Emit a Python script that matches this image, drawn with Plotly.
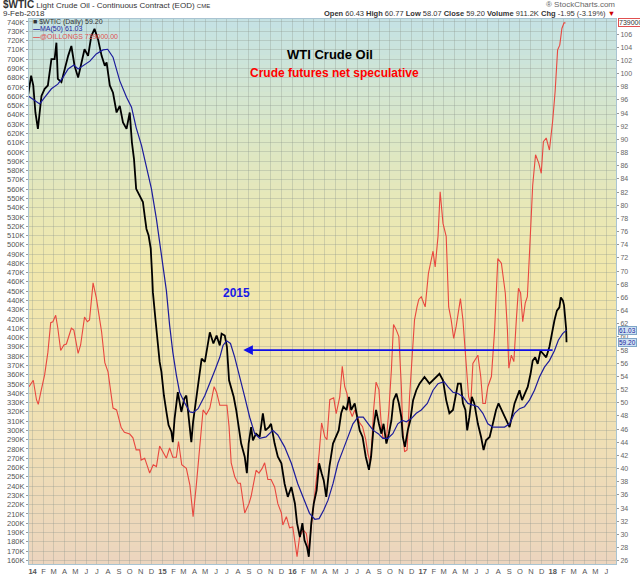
import plotly.graph_objects as go
import pandas as pd

# WTI daily close, sampled off the chart (right axis)
price_dates = [
    "2013-12-20", "2013-12-28", "2014-01-03", "2014-01-09", "2014-01-16", "2014-01-21", "2014-01-26",
    "2014-02-04", "2014-02-13", "2014-02-23", "2014-03-04", "2014-03-09", "2014-03-13", "2014-03-23",
    "2014-04-01", "2014-04-11", "2014-04-20", "2014-04-29", "2014-05-09", "2014-05-18", "2014-05-27",
    "2014-06-06", "2014-06-15", "2014-06-24", "2014-07-04", "2014-07-14", "2014-07-23", "2014-07-28",
    "2014-08-06", "2014-08-15", "2014-08-25", "2014-09-03", "2014-09-12", "2014-09-22", "2014-10-01",
    "2014-10-07", "2014-10-13", "2014-10-19", "2014-10-29", "2014-11-07", "2014-11-12", "2014-11-17",
    "2014-11-23", "2014-11-29", "2014-12-03", "2014-12-05", "2014-12-12", "2014-12-19", "2014-12-24",
    "2014-12-29", "2015-01-05", "2015-01-12", "2015-01-18", "2015-01-26", "2015-01-30", "2015-02-04",
    "2015-02-09", "2015-02-13", "2015-02-18", "2015-02-23", "2015-03-03", "2015-03-09", "2015-03-14",
    "2015-03-19", "2015-03-23", "2015-03-28", "2015-04-02", "2015-04-09", "2015-04-16", "2015-04-21",
    "2015-04-30", "2015-05-08", "2015-05-14", "2015-05-24", "2015-06-02", "2015-06-11", "2015-06-16",
    "2015-06-25", "2015-07-01", "2015-07-07", "2015-07-13", "2015-07-20", "2015-07-27", "2015-08-04",
    "2015-08-10", "2015-08-20", "2015-08-26", "2015-08-31", "2015-09-07", "2015-09-12", "2015-09-21",
    "2015-10-01", "2015-10-10", "2015-10-17", "2015-10-27", "2015-11-02", "2015-11-12", "2015-11-21",
    "2015-12-01", "2015-12-10", "2015-12-19", "2015-12-29", "2016-01-08", "2016-01-14", "2016-01-22",
    "2016-01-29", "2016-02-04", "2016-02-11", "2016-02-16", "2016-02-23", "2016-03-01", "2016-03-09",
    "2016-03-16", "2016-03-23", "2016-03-29", "2016-04-05", "2016-04-14", "2016-04-24", "2016-05-03",
    "2016-05-10", "2016-05-17", "2016-05-23", "2016-06-01", "2016-06-08", "2016-06-14", "2016-06-24",
    "2016-07-01", "2016-07-08", "2016-07-16", "2016-07-25", "2016-08-03", "2016-08-09", "2016-08-16",
    "2016-08-23", "2016-08-31", "2016-09-07", "2016-09-13", "2016-09-21", "2016-09-28", "2016-10-05",
    "2016-10-11", "2016-10-19", "2016-10-26", "2016-11-02", "2016-11-06", "2016-11-12", "2016-11-20",
    "2016-11-27", "2016-12-05", "2016-12-14", "2016-12-23", "2017-01-06", "2017-01-20", "2017-02-03",
    "2017-02-17", "2017-02-27", "2017-03-08", "2017-03-17", "2017-03-27", "2017-04-03", "2017-04-10",
    "2017-04-18", "2017-04-24", "2017-05-01", "2017-05-06", "2017-05-12", "2017-05-19", "2017-05-26",
    "2017-06-05", "2017-06-14", "2017-06-21", "2017-06-28", "2017-07-08", "2017-07-17", "2017-07-26",
    "2017-08-02", "2017-08-10", "2017-08-19", "2017-08-27", "2017-09-02", "2017-09-08", "2017-09-16",
    "2017-09-23", "2017-09-30", "2017-10-07", "2017-10-14", "2017-10-23", "2017-10-31", "2017-11-06",
    "2017-11-13", "2017-11-20", "2017-11-28", "2017-12-04", "2017-12-14", "2017-12-23", "2017-12-29",
    "2018-01-06", "2018-01-13", "2018-01-20", "2018-01-24", "2018-01-30", "2018-02-02", "2018-02-06",
    "2018-02-08", "2018-02-09",
]
price_close = [
    96.9, 99.7, 98.2, 94.1, 91.6, 94.1, 96.6,
    97.7, 98.2, 102.2, 102.2, 104.7, 99.2, 98.7,
    100.7, 102.7, 104.2, 101.2, 99.4, 101.7, 103.7,
    102.7, 105.7, 106.8, 105.2, 102.7, 101.2, 101.7,
    98.2, 97.1, 94.1, 95.1, 92.6, 91.6, 94.1,
    89.6, 87.0, 82.5, 81.5, 80.5, 78.4, 76.4,
    75.4, 73.4, 69.3, 66.8, 62.8, 58.7, 56.2,
    54.7, 51.1, 48.6, 46.6, 45.6, 44.0, 47.6,
    49.6, 51.6, 50.1, 48.6, 50.6, 51.1, 48.6,
    45.6, 44.0, 47.1, 49.1, 51.1, 54.2, 56.7,
    56.2, 59.2, 60.7, 59.0, 60.2, 58.7, 60.5,
    60.2, 58.5, 53.4, 52.4, 50.9, 48.9, 46.3,
    43.8, 41.8, 39.3, 43.8, 46.3, 44.3, 45.3,
    44.8, 48.4, 45.8, 46.3, 46.8, 43.8, 41.8,
    40.8, 37.7, 35.7, 37.2, 34.7, 31.7, 29.6,
    31.7, 29.1, 28.1, 26.6, 31.7, 34.7, 36.7,
    40.8, 39.3, 38.2, 35.7, 40.3, 43.8, 44.8,
    45.8, 48.4, 49.4, 48.9, 50.9, 48.9, 49.9,
    47.8, 45.8, 44.8, 41.8, 39.8, 41.8, 46.3,
    48.9, 46.8, 45.3, 46.8, 43.8, 45.3, 47.3,
    50.4, 51.4, 49.9, 47.8, 44.8, 43.3, 45.8,
    47.3, 50.4, 51.9, 52.9, 53.9, 52.9, 53.7,
    54.4, 53.4, 50.4, 48.4, 48.9, 50.9, 52.9,
    52.9, 49.9, 48.9, 45.8, 47.8, 50.9, 49.9,
    46.8, 44.8, 42.8, 44.3, 44.8, 46.8, 48.9,
    49.9, 48.9, 47.8, 46.8, 46.3, 47.8, 49.9,
    50.9, 51.9, 50.4, 51.4, 52.4, 54.4, 56.4,
    56.9, 55.9, 57.9, 57.5, 56.9, 58.5, 60.5,
    62.5, 64.0, 64.5, 66.0, 65.5, 64.8, 63.0,
    61.2, 59.2,
]

# 50-day moving average of the close
ma_dates = [
    "2013-12-20", "2014-01-07", "2014-01-21", "2014-02-04", "2014-02-23", "2014-03-13", "2014-03-27",
    "2014-04-11", "2014-04-27", "2014-05-09", "2014-05-22", "2014-06-11", "2014-06-29", "2014-07-18",
    "2014-07-31", "2014-08-15", "2014-09-03", "2014-09-22", "2014-10-06", "2014-10-19", "2014-11-03",
    "2014-11-17", "2014-12-01", "2014-12-15", "2014-12-29", "2015-01-12", "2015-01-21", "2015-01-30",
    "2015-02-09", "2015-02-18", "2015-03-05", "2015-03-19", "2015-03-28", "2015-04-11", "2015-04-30",
    "2015-05-14", "2015-05-28", "2015-06-11", "2015-06-20", "2015-06-30", "2015-07-11", "2015-07-23",
    "2015-08-05", "2015-08-20", "2015-09-03", "2015-09-17", "2015-10-01", "2015-10-19", "2015-11-07",
    "2015-11-21", "2015-12-10", "2015-12-29", "2016-01-16", "2016-02-04", "2016-02-18", "2016-03-04",
    "2016-03-16", "2016-03-29", "2016-04-10", "2016-04-24", "2016-05-08", "2016-05-22", "2016-06-05",
    "2016-06-19", "2016-07-03", "2016-07-18", "2016-08-01", "2016-08-15", "2016-08-29", "2016-09-11",
    "2016-09-25", "2016-10-09", "2016-10-23", "2016-11-05", "2016-11-16", "2016-11-30", "2016-12-14",
    "2016-12-28", "2017-01-14", "2017-01-30", "2017-02-13", "2017-03-02", "2017-03-13", "2017-03-27",
    "2017-04-10", "2017-04-24", "2017-05-08", "2017-05-22", "2017-06-05", "2017-06-19", "2017-07-03",
    "2017-07-17", "2017-08-05", "2017-08-19", "2017-09-02", "2017-09-16", "2017-09-30", "2017-10-14",
    "2017-10-28", "2017-11-11", "2017-11-25", "2017-12-09", "2017-12-23", "2018-01-06", "2018-01-17",
    "2018-01-29", "2018-02-09",
]
ma_values = [
    96.6, 95.9, 95.4, 96.4, 97.7, 98.4, 99.4,
    100.7, 101.3, 100.7, 101.2, 101.9, 103.0, 103.6,
    103.7, 102.5, 98.9, 96.4, 94.9, 91.8, 89.1,
    86.0, 82.5, 77.9, 72.4, 67.0, 61.8, 57.7,
    54.2, 51.6, 49.9, 48.6, 48.5, 49.1, 51.1,
    52.9, 54.9, 56.9, 58.7, 59.4, 59.0, 56.9,
    53.9, 50.9, 47.8, 45.3, 44.6, 44.8, 45.8,
    45.1, 43.3, 40.8, 37.7, 35.2, 33.2, 32.3,
    32.4, 33.7, 35.2, 37.7, 40.8, 42.8, 44.8,
    46.8, 47.8, 47.8, 46.8, 45.8, 45.3, 44.6,
    44.6, 45.3, 46.8, 47.3, 47.1, 47.6, 48.4,
    48.9, 49.9, 51.9, 52.9, 53.2, 52.4, 51.6,
    51.4, 50.9, 49.9, 49.6, 49.4, 48.4, 46.8,
    46.3, 46.3, 46.3, 46.8, 48.4, 49.1, 49.4,
    50.4, 51.9, 53.9, 55.4, 56.4, 57.9, 59.5,
    60.5, 61.03,
]

# @OILLONGS, crude futures net speculative longs (left axis, contracts)
cot_dates = [
    "2013-12-22", "2014-01-03", "2014-01-12", "2014-01-17", "2014-01-24", "2014-02-04", "2014-02-13",
    "2014-02-21", "2014-02-27", "2014-03-07", "2014-03-13", "2014-03-21", "2014-03-30", "2014-04-06",
    "2014-04-20", "2014-04-27", "2014-05-09", "2014-05-16", "2014-05-27", "2014-06-04", "2014-06-10",
    "2014-06-20", "2014-06-29", "2014-07-14", "2014-07-23", "2014-08-01", "2014-08-15", "2014-08-25",
    "2014-09-07", "2014-09-16", "2014-10-01", "2014-10-10", "2014-10-19", "2014-10-29", "2014-11-02",
    "2014-11-12", "2014-11-26", "2014-12-06", "2014-12-15", "2014-12-24", "2015-01-02", "2015-01-12",
    "2015-01-21", "2015-01-30", "2015-02-09", "2015-02-15", "2015-02-24", "2015-03-09", "2015-03-19",
    "2015-03-28", "2015-04-06", "2015-04-16", "2015-04-25", "2015-05-04", "2015-05-14", "2015-05-26",
    "2015-06-02", "2015-06-11", "2015-06-25", "2015-07-01", "2015-07-07", "2015-07-13", "2015-07-23",
    "2015-08-01", "2015-08-08", "2015-08-20", "2015-09-01", "2015-09-07", "2015-09-12", "2015-09-21",
    "2015-09-29", "2015-10-08", "2015-10-15", "2015-10-24", "2015-11-02", "2015-11-12", "2015-11-21",
    "2015-12-01", "2015-12-05", "2015-12-15", "2015-12-24", "2016-01-02", "2016-01-14", "2016-01-21",
    "2016-01-31", "2016-02-09", "2016-02-16", "2016-02-26", "2016-03-09", "2016-03-16", "2016-03-23",
    "2016-04-01", "2016-04-07", "2016-04-15", "2016-04-26", "2016-05-03", "2016-05-13", "2016-05-20",
    "2016-05-27", "2016-06-02", "2016-06-10", "2016-06-17", "2016-06-24", "2016-07-01", "2016-07-08",
    "2016-07-16", "2016-07-25", "2016-07-31", "2016-08-07", "2016-08-12", "2016-08-16", "2016-08-23",
    "2016-08-31", "2016-09-07", "2016-09-11", "2016-09-21", "2016-09-28", "2016-10-05", "2016-10-11",
    "2016-10-19", "2016-10-26", "2016-11-02", "2016-11-06", "2016-11-11", "2016-11-18", "2016-11-25",
    "2016-12-03", "2016-12-09", "2016-12-16", "2016-12-21", "2016-12-28", "2017-01-08", "2017-01-17",
    "2017-01-30", "2017-02-05", "2017-02-13", "2017-02-19", "2017-02-27", "2017-03-08", "2017-03-15",
    "2017-03-22", "2017-03-29", "2017-04-05", "2017-04-17", "2017-04-24", "2017-05-04", "2017-05-10",
    "2017-05-16", "2017-05-22", "2017-06-05", "2017-06-13", "2017-06-19", "2017-06-26", "2017-07-03",
    "2017-07-13", "2017-07-22", "2017-07-31", "2017-08-10", "2017-08-21", "2017-08-27", "2017-08-31",
    "2017-09-07", "2017-09-14", "2017-09-21", "2017-09-27", "2017-10-03", "2017-10-09", "2017-10-16",
    "2017-10-22", "2017-10-28", "2017-11-03", "2017-11-06", "2017-11-14", "2017-11-23", "2017-11-30",
    "2017-12-06", "2017-12-14", "2017-12-23", "2018-01-01", "2018-01-08", "2018-01-15", "2018-01-21",
    "2018-01-27", "2018-02-02", "2018-02-06",
]
cot_longs_k = [
    347, 354, 333, 328, 341, 360, 384,
    416, 417, 424, 410, 386, 392, 393,
    410, 408, 383, 392, 422, 417, 419,
    459, 443, 406, 373, 363, 324, 322,
    303, 298, 296, 292, 279, 279, 268,
    270, 254, 263, 261, 283, 277, 270,
    281, 271, 271, 288, 263, 259, 241,
    207, 241, 281, 322, 317, 324, 347,
    341, 327, 327, 327, 304, 265, 250,
    243, 243, 211, 221, 229, 239, 257,
    254, 259, 265, 247, 247, 239, 221,
    211, 198, 207, 195, 196, 164, 185,
    193, 189, 171, 207, 243, 275, 308,
    293, 290, 333, 335, 318, 336, 369,
    347, 340, 322, 315, 322, 315, 308,
    304, 290, 275, 265, 293, 322, 352,
    344, 304, 293, 290, 322, 365, 414,
    408, 401, 347, 300, 277, 279, 336,
    383, 419, 433, 441, 444, 433, 469,
    493, 476, 509, 557, 523, 509, 433,
    419, 399, 412, 442, 419, 372, 336,
    329, 372, 381, 358, 329, 329, 347,
    358, 408, 485, 480, 448, 408, 367,
    381, 374, 419, 453, 448, 417, 437,
    444, 491, 537, 564, 597, 588, 577,
    611, 615, 602, 633, 665, 710, 715,
    733, 739, 739,
]
cot_longs = [v * 1000 for v in cot_longs_k]

# 2015 high level carried forward
arrow_level = 58.0
arrow_from = "2018-01-05"
arrow_to = "2015-08-16"

month_letters = ["J", "F", "M", "A", "M", "J", "J", "A", "S", "O", "N", "D"]
tick_months = pd.date_range("2014-01-01", "2018-06-01", freq="MS")
tick_text = [f"<b>{d.strftime('%y')}</b>" if d.month == 1 else month_letters[d.month - 1]
             for d in tick_months]

left_ticks = list(range(160000, 740001, 10000))
left_text = [f"{v // 1000}K" for v in left_ticks]
right_ticks = list(range(26, 107, 2))

FONT = "Arial, Liberation Sans, sans-serif"

fig = go.Figure()

fig.add_trace(go.Scatter(x=cot_dates, y=cot_longs, mode="lines",
                         line=dict(color="#e8473f", width=1.1), yaxis="y"))
fig.add_trace(go.Scatter(x=price_dates, y=price_close, mode="lines",
                         line=dict(color="#000000", width=1.8), yaxis="y2"))
fig.add_trace(go.Scatter(x=ma_dates, y=ma_values, mode="lines",
                         line=dict(color="#1c1c9c", width=1.2), yaxis="y2"))

# gradient background, teal at the top to peach at the bottom
stops = [(0.0, (236, 213, 190)), (0.3, (240, 226, 178)), (0.55, (241, 232, 172)),
         (0.8, (218, 231, 200)), (1.0, (196, 226, 228))]
n_bands = 60
shapes = []
for i in range(n_bands):
    f = (i + 0.5) / n_bands
    for (f0, c0), (f1, c1) in zip(stops[:-1], stops[1:]):
        if f0 <= f <= f1:
            t = (f - f0) / (f1 - f0)
            col = tuple(round(a + (b - a) * t) for a, b in zip(c0, c1))
            break
    shapes.append(dict(type="rect", xref="paper", yref="paper", x0=0, x1=1,
                       y0=i / n_bands, y1=(i + 1) / n_bands + 0.002,
                       fillcolor=f"rgb{col}", line=dict(width=0), layer="below"))

annotations = [
    # header
    dict(x=-0.048, y=1.027, xref="paper", yref="paper", xanchor="left", yanchor="middle",
         text="<span style='font-size:10px'><b>$WTIC</b></span> Light Crude Oil - Continuous Contract (EOD) "
              "<span style='font-size:6px'>CME</span>",
         font=dict(size=8, color="#333"), showarrow=False),
    dict(x=-0.048, y=1.01, xref="paper", yref="paper", xanchor="left", yanchor="middle",
         text="9-Feb-2018", font=dict(size=8, color="#333"), showarrow=False),
    dict(x=1.002, y=1.026, xref="paper", yref="paper", xanchor="right", yanchor="middle",
         text="® StockCharts.com", font=dict(size=8, color="#666"), showarrow=False),
    dict(x=1.002, y=1.01, xref="paper", yref="paper", xanchor="right", yanchor="middle",
         text="<b>Open</b> 60.43 <b>High</b> 60.77 <b>Low</b> 58.07 <b>Close</b> 59.20 "
              "<b>Volume</b> 911.2K <b>Chg</b> -1.95 (-3.19%) <span style='color:#cc0000'>▼</span>",
         font=dict(size=7.5, color="#333"), showarrow=False),
    # legend
    dict(x=0.004, y=0.995, xref="paper", yref="paper", xanchor="left", yanchor="middle",
         text="■ $WTIC (Daily) 59.20", font=dict(size=7, color="#333"), showarrow=False),
    dict(x=0.004, y=0.981, xref="paper", yref="paper", xanchor="left", yanchor="middle",
         text="<b>—</b>MA(50) 61.03", font=dict(size=7, color="#1c1c9c"), showarrow=False),
    dict(x=0.004, y=0.967, xref="paper", yref="paper", xanchor="left", yanchor="middle",
         text="<b>—</b>@OILLONGS 739000.00", font=dict(size=7, color="#e05050"), showarrow=False),
    # titles
    dict(x=0.513, y=0.952, xref="paper", yref="paper", text="<b>WTI Crude Oil</b>",
         font=dict(size=13, color="#000"), showarrow=False),
    dict(x=0.521, y=0.917, xref="paper", yref="paper", text="<b>Crude futures net speculative</b>",
         font=dict(size=12, color="#ff0000"), showarrow=False),
    dict(x=0.354, y=0.497, xref="paper", yref="paper", text="<b>2015</b>",
         font=dict(size=12, color="#1a1ae6"), showarrow=False),
    # arrow
    dict(x=arrow_to, y=arrow_level, xref="x", yref="y2", ax=arrow_from, ay=arrow_level,
         axref="x", ayref="y2", text="", showarrow=True, arrowhead=2, arrowsize=1.2,
         arrowwidth=1.6, arrowcolor="#1010e8"),
    # right-side value tags
    dict(x=1.004, y=ma_values[-1], xref="paper", yref="y2", xanchor="left", yanchor="middle",
         text="61.03", font=dict(size=6.5, color="#1c1c9c"), bgcolor="#cfe2f2",
         bordercolor="#7fa6c8", borderwidth=1, borderpad=0, showarrow=False),
    dict(x=1.004, y=price_close[-1], xref="paper", yref="y2", xanchor="left", yanchor="middle",
         text="59.20", font=dict(size=6.5, color="#1c1c9c"), bgcolor="#cfe2f2",
         bordercolor="#7fa6c8", borderwidth=1, borderpad=0, showarrow=False),
    dict(x=1.004, y=cot_longs[-1], xref="paper", yref="y", xanchor="left", text="739000",
         font=dict(size=7, color="#333"), bgcolor="#ffffff", bordercolor="#e05050",
         borderwidth=1, borderpad=0, showarrow=False),
]

grid_col = "rgba(140,150,140,0.32)"
fig.update_layout(
    width=640, height=576,
    margin=dict(l=29, r=24, t=19, b=12, autoexpand=False),
    paper_bgcolor="white", plot_bgcolor="white",
    showlegend=False,
    font=dict(family=FONT, size=8, color="#555"),
    shapes=shapes,
    annotations=annotations,
    xaxis=dict(range=["2013-12-22", "2018-06-28"], tickmode="array",
               tickvals=tick_months, ticktext=tick_text, tickangle=0, automargin=False,
               showgrid=True, gridcolor=grid_col, gridwidth=1,
               showline=True, linecolor="#a9c4d2", mirror=True,
               ticks="", tickfont=dict(size=7.5, color="#555"), zeroline=False),
    yaxis=dict(range=[156000, 743200], tickmode="array", tickvals=left_ticks, ticktext=left_text,
               automargin=False, showgrid=True, gridcolor=grid_col, gridwidth=1,
               showline=True, linecolor="#a9c4d2", mirror=True,
               ticks="outside", ticklen=2, tickcolor="#999",
               tickfont=dict(size=7.5, color="#555"), zeroline=False),
    yaxis2=dict(range=[25.5, 108.3], overlaying="y", side="right", tickmode="array",
                tickvals=right_ticks, showgrid=False, zeroline=False, automargin=False,
                ticks="outside", ticklen=2, tickcolor="#999",
                tickfont=dict(size=7, color="#666")),
)

# the page's default body margin would shift the 640x576 figure off the window
fig.write_html("out.html", config={"displayModeBar": False},
               post_script="document.body.style.margin = '0';")
